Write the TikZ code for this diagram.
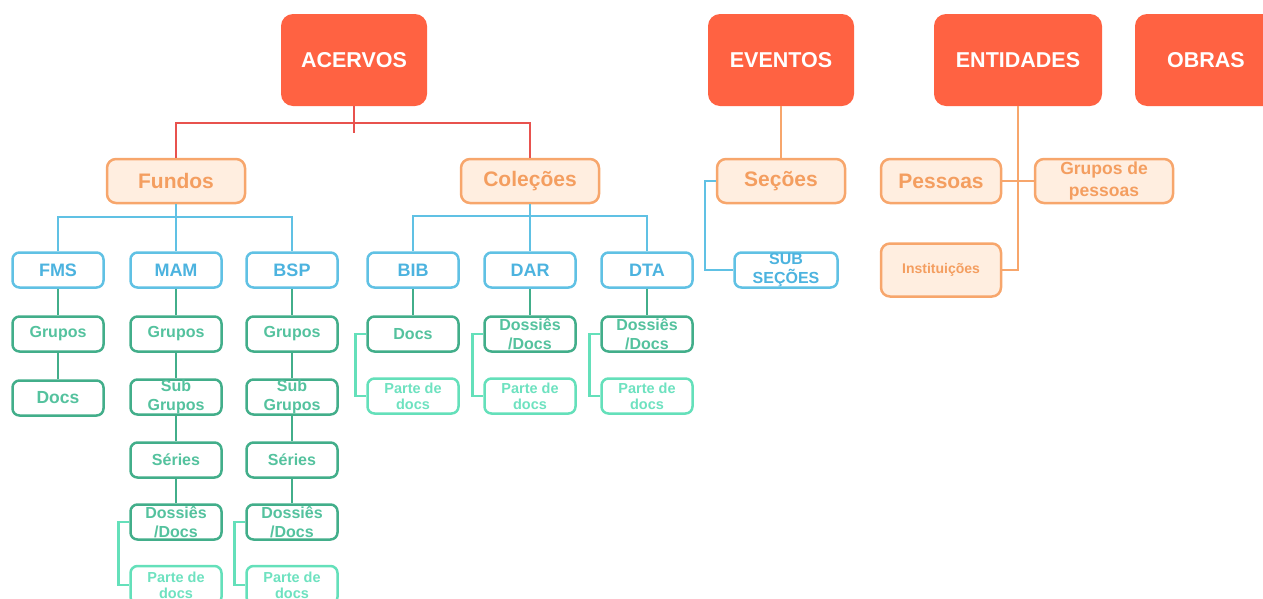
\documentclass[tikz,border=0pt]{standalone}
\usepackage{fontspec}
\setmainfont{Liberation Sans}
\definecolor{topred}{RGB}{255,98,66}
\definecolor{redline}{RGB}{232,82,78}
\definecolor{orangeline}{RGB}{247,166,108}
\definecolor{orangefill}{RGB}{255,238,224}
\definecolor{orangetext}{RGB}{244,158,96}
\definecolor{blueline}{RGB}{96,193,228}
\definecolor{bluetext}{RGB}{76,179,223}
\definecolor{greenline}{RGB}{66,174,138}
\definecolor{greentext}{RGB}{84,194,158}
\definecolor{mintline}{RGB}{100,224,186}
\definecolor{minttext}{RGB}{110,226,192}
\tikzset{
	topbox/.style={fill=topred, rounded corners=12pt, inner sep=0pt, minimum width=146pt, minimum height=92pt, text=white, font=\fontsize{21.5}{24}\selectfont\bfseries},
	midbox/.style={draw=orangeline, fill=orangefill, line width=2.5pt, rounded corners=9pt, inner sep=0pt, minimum width=138pt, minimum height=44pt, text=orangetext, align=center, font=\fontsize{21}{24}\selectfont\bfseries},
	bluebox/.style={draw=blueline, fill=white, line width=2.5pt, rounded corners=7pt, inner sep=0pt, minimum width=91pt, minimum height=35pt, text=bluetext, align=center, font=\fontsize{18}{19}\selectfont\bfseries},
	greenbox/.style={draw=greenline, fill=white, line width=2.5pt, rounded corners=7pt, inner sep=0pt, minimum width=91pt, minimum height=35pt, text=greentext, align=center, font=\fontsize{16}{19}\selectfont\bfseries},
	partebox/.style={draw=mintline, fill=white, line width=2.5pt, rounded corners=7pt, inner sep=0pt, minimum width=91pt, minimum height=35pt, text=minttext, align=center, font=\fontsize{14.5}{16}\selectfont\bfseries},
	redlink/.style={draw=redline, line width=2.5pt},
	orangelink/.style={draw=orangeline, line width=2.5pt},
	bluelink/.style={draw=blueline, line width=2.5pt},
	greenlink/.style={draw=greenline, line width=2.5pt},
	mintlink/.style={draw=mintline, line width=2.5pt}
}
\begin{document}
\begin{tikzpicture}[x=1pt, y=-1pt]
		\useasboundingbox (0,0) rectangle (1263,598);
		\clip (0,0) rectangle (1263,598);
		
		%Top boxes
		\node[topbox] (acervos) at (354,60) {ACERVOS};
		\node[topbox] (eventos) at (781,60) {EVENTOS};
		\node[topbox, minimum width=168pt] (entidades) at (1018,60) {ENTIDADES};
		\node[topbox, minimum width=142pt] (obras) at (1206,60) {OBRAS};
		
		%ACERVOS
		\node[midbox] (fundos) at (176,181) {Fundos};
		\node[midbox] (colecoes) at (530,181) {Coleções};
		\coordinate (acervosbar) at (354,123);
		\draw[redlink] (acervos.south) -- ++(0,27);
		\draw[redlink] (fundos.north) |- (acervosbar) -| (colecoes.north);
		
		%EVENTOS
		\node[midbox, minimum width=128pt] (secoes) at (781,181) {Seções};
		\node[bluebox, minimum width=103pt, font=\fontsize{16}{19}\selectfont\bfseries] (subsecoes) at (786,270) {SUB\\SEÇÕES};
		\draw[orangelink] (eventos.south) -- (secoes.north);
		\draw[bluelink] (secoes.west) -- ++(-11,0) |- (subsecoes.west);
		
		%ENTIDADES
		\node[midbox, minimum width=120pt] (pessoas) at (941,181) {Pessoas};
		\node[midbox, font=\fontsize{17.5}{22}\selectfont\bfseries] (grupospessoas) at (1104,181) {Grupos de\\pessoas};
		\node[midbox, minimum width=120pt, minimum height=53pt, font=\fontsize{14}{16}\selectfont\bfseries] (instituicoes) at (941,270) {Instituições};
		\draw[orangelink] (entidades.south) |- (instituicoes.east);
		\draw[orangelink] (pessoas.east) -- (grupospessoas.west);
		
		%Fundos
		\node[bluebox] (fms) at (58,270) {FMS};
		\node[bluebox] (mam) at (176,270) {MAM};
		\node[bluebox] (bsp) at (292,270) {BSP};
		\coordinate (fundosbar) at (176,217);
		\draw[bluelink] (fms.north) |- (fundosbar) -| (bsp.north);
		\draw[bluelink] (fundos.south) -- (mam.north);
		
		%Colecoes
		\node[bluebox] (bib) at (413,270) {BIB};
		\node[bluebox] (dar) at (530,270) {DAR};
		\node[bluebox] (dta) at (647,270) {DTA};
		\coordinate (colecoesbar) at (530,216);
		\draw[bluelink] (bib.north) |- (colecoesbar) -| (dta.north);
		\draw[bluelink] (colecoes.south) -- (dar.north);
		
		%One column: FMS
		\def\x{58}
		\node[greenbox] (fmsgrupos) at (\x,334) {Grupos};
		\node[greenbox, font=\fontsize{17.5}{19}\selectfont\bfseries] (fmsdocs) at (\x,398) {Docs};
		\draw[greenlink] (fms.south) -- (fmsgrupos.north);
		\draw[greenlink] (fmsgrupos.south) -- (fmsdocs.north);
		
		%One column: MAM
		\def\x{176}
		\node[greenbox] (mamgrupos) at (\x,334) {Grupos};
		\node[greenbox] (mamsub) at (\x,397) {Sub\\Grupos};
		\node[greenbox] (mamseries) at (\x,460) {Séries};
		\node[greenbox] (mamdossies) at (\x,522) {Dossiês\\/Docs};
		\node[partebox, minimum height=38pt] (mamparte) at (\x,585) {Parte de\\docs};
		\draw[greenlink] (mam.south) -- (mamgrupos.north);
		\draw[greenlink] (mamgrupos.south) -- (mamsub.north);
		\draw[greenlink] (mamsub.south) -- (mamseries.north);
		\draw[greenlink] (mamseries.south) -- (mamdossies.north);
		\draw[mintlink] (mamdossies.west) -- ++(-11,0) |- (mamparte.west);
		
		%One column: BSP
		\def\x{292}
		\node[greenbox] (bspgrupos) at (\x,334) {Grupos};
		\node[greenbox] (bspsub) at (\x,397) {Sub\\Grupos};
		\node[greenbox] (bspseries) at (\x,460) {Séries};
		\node[greenbox] (bspdossies) at (\x,522) {Dossiês\\/Docs};
		\node[partebox, minimum height=38pt] (bspparte) at (\x,585) {Parte de\\docs};
		\draw[greenlink] (bsp.south) -- (bspgrupos.north);
		\draw[greenlink] (bspgrupos.south) -- (bspsub.north);
		\draw[greenlink] (bspsub.south) -- (bspseries.north);
		\draw[greenlink] (bspseries.south) -- (bspdossies.north);
		\draw[mintlink] (bspdossies.west) -- ++(-11,0) |- (bspparte.west);
		
		%One column: BIB
		\def\x{413}
		\node[greenbox] (bibdocs) at (\x,334) {Docs};
		\node[partebox] (bibparte) at (\x,396) {Parte de\\docs};
		\draw[greenlink] (bib.south) -- (bibdocs.north);
		\draw[mintlink] (bibdocs.west) -- ++(-11,0) |- (bibparte.west);
		
		%One column: DAR
		\def\x{530}
		\node[greenbox] (dardossies) at (\x,334) {Dossiês\\/Docs};
		\node[partebox] (darparte) at (\x,396) {Parte de\\docs};
		\draw[greenlink] (dar.south) -- (dardossies.north);
		\draw[mintlink] (dardossies.west) -- ++(-11,0) |- (darparte.west);
		
		%One column: DTA
		\def\x{647}
		\node[greenbox] (dtadossies) at (\x,334) {Dossiês\\/Docs};
		\node[partebox] (dtaparte) at (\x,396) {Parte de\\docs};
		\draw[greenlink] (dta.south) -- (dtadossies.north);
		\draw[mintlink] (dtadossies.west) -- ++(-11,0) |- (dtaparte.west);
	\end{tikzpicture}
\end{document}
